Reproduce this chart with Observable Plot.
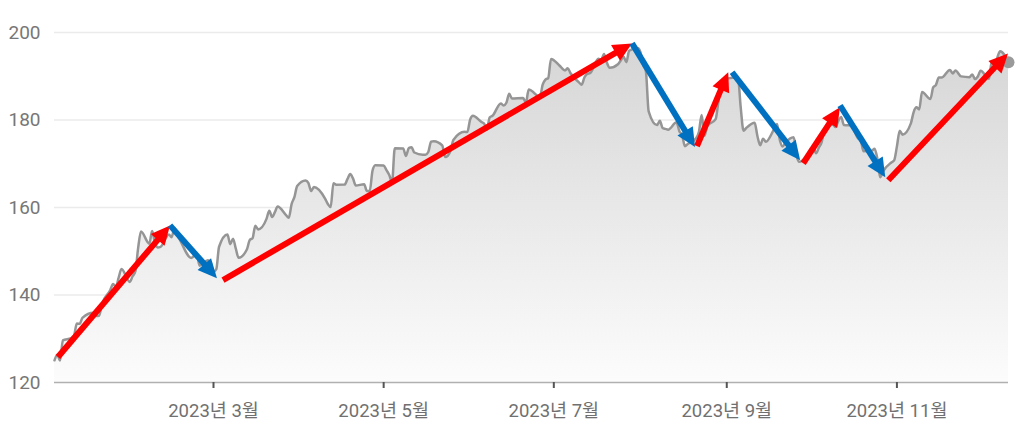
<!DOCTYPE html>
<html>
<head>
<meta charset="utf-8">
<script src="https://cdn.jsdelivr.net/npm/d3@7"></script>
<script src="https://cdn.jsdelivr.net/npm/@observablehq/plot@0.6"></script>
<style>
  html, body { margin: 0; padding: 0; background: #ffffff; }
  #chart svg { display: block; }
</style>
</head>
<body>
<div id="chart"></div>
<script>
// ---- price series ----
const dates = [
 "2023-01-03","2023-01-04","2023-01-05","2023-01-06","2023-01-09","2023-01-10","2023-01-11","2023-01-12","2023-01-13","2023-01-17","2023-01-18","2023-01-19","2023-01-20","2023-01-23","2023-01-24","2023-01-25","2023-01-26","2023-01-27","2023-01-30","2023-01-31",
 "2023-02-01","2023-02-02","2023-02-03","2023-02-06","2023-02-07","2023-02-08","2023-02-09","2023-02-10","2023-02-13","2023-02-14","2023-02-15","2023-02-16","2023-02-17","2023-02-21","2023-02-22","2023-02-23","2023-02-24","2023-02-27","2023-02-28",
 "2023-03-01","2023-03-02","2023-03-03","2023-03-06","2023-03-07","2023-03-08","2023-03-09","2023-03-10","2023-03-13","2023-03-14","2023-03-15","2023-03-16","2023-03-17","2023-03-20","2023-03-21","2023-03-22","2023-03-23","2023-03-24","2023-03-27","2023-03-28","2023-03-29","2023-03-30","2023-03-31",
 "2023-04-03","2023-04-04","2023-04-05","2023-04-06","2023-04-10","2023-04-11","2023-04-12","2023-04-13","2023-04-14","2023-04-17","2023-04-18","2023-04-19","2023-04-20","2023-04-21","2023-04-24","2023-04-25","2023-04-26","2023-04-27","2023-04-28",
 "2023-05-01","2023-05-02","2023-05-03","2023-05-04","2023-05-05","2023-05-08","2023-05-09","2023-05-10","2023-05-11","2023-05-12","2023-05-15","2023-05-16","2023-05-17","2023-05-18","2023-05-19","2023-05-22","2023-05-23","2023-05-24","2023-05-25","2023-05-26","2023-05-30","2023-05-31",
 "2023-06-01","2023-06-02","2023-06-05","2023-06-06","2023-06-07","2023-06-08","2023-06-09","2023-06-12","2023-06-13","2023-06-14","2023-06-15","2023-06-16","2023-06-20","2023-06-21","2023-06-22","2023-06-23","2023-06-26","2023-06-27","2023-06-28","2023-06-29","2023-06-30",
 "2023-07-03","2023-07-05","2023-07-06","2023-07-07","2023-07-10","2023-07-11","2023-07-12","2023-07-13","2023-07-14","2023-07-17","2023-07-18","2023-07-19","2023-07-20","2023-07-21","2023-07-24","2023-07-25","2023-07-26","2023-07-27","2023-07-28","2023-07-31",
 "2023-08-01","2023-08-02","2023-08-03","2023-08-04","2023-08-07","2023-08-08","2023-08-09","2023-08-10","2023-08-11","2023-08-14","2023-08-15","2023-08-16","2023-08-17","2023-08-18","2023-08-21","2023-08-22","2023-08-23","2023-08-24","2023-08-25","2023-08-28","2023-08-29","2023-08-30","2023-08-31",
 "2023-09-01","2023-09-05","2023-09-06","2023-09-07","2023-09-08","2023-09-11","2023-09-12","2023-09-13","2023-09-14","2023-09-15","2023-09-18","2023-09-19","2023-09-20","2023-09-21","2023-09-22","2023-09-25","2023-09-26","2023-09-27","2023-09-28","2023-09-29",
 "2023-10-02","2023-10-03","2023-10-04","2023-10-05","2023-10-06","2023-10-09","2023-10-10","2023-10-11","2023-10-12","2023-10-13","2023-10-16","2023-10-17","2023-10-18","2023-10-19","2023-10-20","2023-10-23","2023-10-24","2023-10-25","2023-10-26","2023-10-27","2023-10-30","2023-10-31",
 "2023-11-01","2023-11-02","2023-11-03","2023-11-06","2023-11-07","2023-11-08","2023-11-09","2023-11-10","2023-11-13","2023-11-14","2023-11-15","2023-11-16","2023-11-17","2023-11-20","2023-11-21","2023-11-22","2023-11-24","2023-11-27","2023-11-28","2023-11-29","2023-11-30",
 "2023-12-01","2023-12-04","2023-12-05","2023-12-06","2023-12-07","2023-12-08","2023-12-11"
];
const closes = [
 125.07,126.36,125.02,129.62,130.15,130.73,133.49,133.41,134.76,135.94,135.21,135.27,137.87,141.11,142.53,141.86,143.96,145.93,143.00,144.29,
 145.43,150.82,154.50,151.73,154.65,151.92,150.87,151.01,153.85,153.20,155.33,153.71,152.55,148.48,148.91,149.40,146.71,147.92,147.41,
 145.31,145.91,151.03,153.83,151.60,152.87,150.59,148.50,150.47,152.59,152.99,155.85,155.00,157.40,159.28,157.83,158.93,160.25,158.28,157.65,160.77,162.36,164.90,
 166.17,165.63,163.76,164.66,162.03,160.80,160.10,165.56,165.21,165.23,166.47,167.63,166.65,165.02,165.33,163.77,163.76,168.41,169.68,
 169.59,168.54,167.45,165.79,173.57,173.50,171.77,173.56,173.75,172.57,172.07,172.07,172.69,175.05,175.16,174.20,171.56,171.84,172.99,175.43,177.30,177.25,
 180.09,180.95,179.58,179.21,177.82,180.57,180.96,183.79,183.31,183.95,186.01,184.92,185.01,183.96,187.00,186.68,185.27,188.06,189.25,189.59,193.97,
 192.46,191.33,191.81,190.68,188.61,188.08,189.77,190.54,190.69,193.99,193.73,195.10,193.13,191.94,192.75,193.62,194.50,193.22,195.83,196.45,
 195.61,192.58,191.17,181.99,178.85,179.80,178.19,177.97,177.79,179.46,177.45,176.57,174.00,174.49,175.84,177.23,181.12,176.38,178.61,180.19,184.12,187.65,187.87,
 189.46,189.70,182.91,177.56,178.18,179.36,176.30,174.21,175.74,175.01,177.97,179.07,175.49,173.93,174.79,176.08,171.96,170.43,170.69,171.21,
 173.75,172.40,173.66,174.91,177.49,178.99,178.39,179.80,180.71,178.85,178.72,177.15,175.84,175.46,172.88,173.00,173.44,171.10,166.89,168.22,170.29,170.77,
 173.97,177.57,176.65,179.23,181.82,182.89,182.41,186.40,184.80,187.44,188.01,189.71,189.69,191.45,190.64,191.31,189.97,189.79,190.40,189.37,189.95,
 191.24,189.43,193.42,192.32,194.27,195.71,193.18
];

// ---- trend arrows (start/end in data units) ----
const arrowStartDates = ["2023-01-04T10:00Z","2023-02-13T14:00Z","2023-03-04T14:00Z","2023-07-29T05:00Z","2023-08-21T12:00Z","2023-09-03T02:00Z","2023-09-28T14:00Z","2023-10-11T19:00Z","2023-10-29T02:00Z"];
const arrowStartValues = [125.7,155.8,143.3,197.4,173.9,190.8,170.0,183.2,166.1];
const arrowEndDates = ["2023-02-13T14:00Z","2023-03-02T10:00Z","2023-07-29T05:00Z","2023-08-20T19:00Z","2023-09-01T17:00Z","2023-09-27T12:00Z","2023-10-11T19:00Z","2023-10-28T00:00Z","2023-12-11T00:00Z"];
const arrowEndValues = [155.8,143.7,197.4,173.7,190.8,170.7,182.8,166.8,195.1];
const arrowColors = ["#ff0000","#0070c0","#ff0000","#0070c0","#ff0000","#0070c0","#ff0000","#0070c0","#ff0000"];

// ---- axis ticks ----
const yTicks = [120, 140, 160, 180, 200];
const xTickDates = ["2023-03-01","2023-05-01","2023-07-01","2023-09-01","2023-11-01"];
const xTickLabels = ["2023년 3월","2023년 5월","2023년 7월","2023년 9월","2023년 11월"];

// ---- build tables ----
const series = dates.map((d, i) => ({date: new Date(d), close: closes[i]}));
const arrows = arrowStartDates.map((d, i) => ({
  x1: new Date(d), y1: arrowStartValues[i],
  x2: new Date(arrowEndDates[i]), y2: arrowEndValues[i],
  color: arrowColors[i]
}));
const xTicks = xTickDates.map(d => new Date(d));
const labelFor = new Map(xTickDates.map((d, i) => [new Date(d).getTime(), xTickLabels[i]]));

const defs = () => {
  const d = d3.create("svg:defs");
  const g = d.append("linearGradient").attr("id", "areaGrad")
    .attr("x1", 0).attr("y1", 0).attr("x2", 0).attr("y2", 1);
  g.append("stop").attr("offset", "0%").attr("stop-color", "#d6d6d6");
  g.append("stop").attr("offset", "100%").attr("stop-color", "#fcfcfc");
  return d.node();
};

const HEAD_LEN = 19, HEAD_HALF = 9, SHAFT = 6;
const arrowMark = Plot.link(arrows, {
  x1: "x1", y1: "y1", x2: "x2", y2: "y2",
  render(index, scales, values) {
    const g = d3.create("svg:g");
    for (const i of index) {
      const x1 = values.x1[i], y1 = values.y1[i], x2 = values.x2[i], y2 = values.y2[i];
      const dx = x2 - x1, dy = y2 - y1, L = Math.hypot(dx, dy);
      const ux = dx / L, uy = dy / L;
      const bx = x2 - ux * HEAD_LEN, by = y2 - uy * HEAD_LEN;
      const c = arrows[i].color;
      g.append("line")
        .attr("x1", x1).attr("y1", y1)
        .attr("x2", bx + ux * 2).attr("y2", by + uy * 2)
        .attr("stroke", c).attr("stroke-width", SHAFT);
      g.append("path")
        .attr("d", `M${x2},${y2}L${bx - uy * HEAD_HALF},${by + ux * HEAD_HALF}L${bx + uy * HEAD_HALF},${by - ux * HEAD_HALF}Z`)
        .attr("fill", c);
    }
    return g.node();
  }
});

const chart = Plot.plot({
  width: 1027,
  height: 435,
  marginLeft: 54,
  marginRight: 19,
  marginTop: 32,
  marginBottom: 53,
  style: {fontFamily: "Roboto, 'Noto Sans CJK KR', sans-serif", background: "#ffffff"},
  x: {type: "utc", domain: [new Date("2023-01-03"), new Date("2023-12-11")]},
  y: {domain: [120, 200]},
  marks: [
    defs,
    Plot.gridY(yTicks.filter(t => t > 120), {stroke: "#ebebeb", strokeOpacity: 1, strokeWidth: 1.3}),
    Plot.areaY(series, {x: "date", y1: 120, y2: "close", curve: "monotone-x", fill: "url(#areaGrad)"}),
    Plot.lineY(series, {x: "date", y: "close", curve: "monotone-x", stroke: "#959595", strokeWidth: 2.5}),
    Plot.dot(series.slice(-1), {x: "date", y: "close", r: 6, fill: "#9a9a9a"}),
    Plot.ruleY([120], {stroke: "#b0b0b0", strokeWidth: 1.5}),
    Plot.axisY({ticks: yTicks, tickSize: 0, tickPadding: 14, fontSize: 19, color: "#777777", label: null}),
    Plot.axisX({ticks: xTicks, tickSize: 6, tickPadding: 15, strokeWidth: 2, stroke: "#555555", fill: "#707070",
      fontSize: 18.5, label: null, tickFormat: d => labelFor.get(d.getTime())}),
    arrowMark
  ]
});
document.getElementById("chart").appendChild(chart);
</script>
</body>
</html>
